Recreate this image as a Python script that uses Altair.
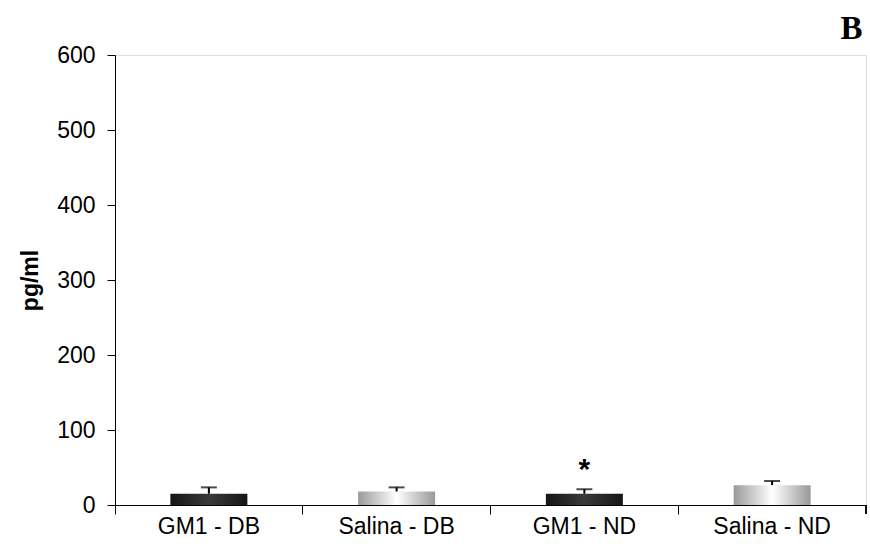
import altair as alt
import pandas as pd

categories = ["GM1 - DB", "Salina - DB", "GM1 - ND", "Salina - ND"]
groups = ["GM1", "Salina", "GM1", "Salina"]
values = [15, 18, 15, 26.5]
err_top = [23.5, 23.5, 21, 32]
star_cat = ["GM1 - ND"]
star_val = [56]

df = pd.DataFrame({"cat": categories, "group": groups, "value": values, "top": err_top})
star_df = pd.DataFrame({"cat": star_cat, "value": star_val, "label": ["*"]})

FONT = "Liberation Sans Narrow, Arial Narrow, Liberation Sans, Arial"
FONT_B = "Liberation Sans, Arial"

x_enc = alt.X(
    "cat:N",
    sort=categories,
    scale=alt.Scale(paddingInner=0, paddingOuter=0),
    axis=alt.Axis(
        title=None, labelAngle=0, bandPosition=0, tickSize=9, labelPadding=1,
        labelFont=FONT, labelFontSize=23, labelColor="black",
        domainColor="black", tickColor="black", labelFlush=False,
    ),
)
y_enc = alt.Y(
    "value:Q",
    scale=alt.Scale(domain=[0, 600], nice=False),
    axis=alt.Axis(
        title="pg/ml", values=[0, 100, 200, 300, 400, 500, 600], grid=False,
        tickSize=8, labelPadding=12, labelFont=FONT, labelFontSize=23, labelColor="black",
        domainColor="black", tickColor="black",
        titleFont=FONT_B, titleFontSize=23, titleFontWeight="bold", titleColor="black",
        titlePadding=14,
    ),
)

dark = alt.Gradient(
    gradient="linear", x1=0, x2=1, y1=0, y2=0,
    stops=[alt.GradientStop(color="#151515", offset=0),
           alt.GradientStop(color="#3a3a3a", offset=0.5),
           alt.GradientStop(color="#151515", offset=1)],
)
light = alt.Gradient(
    gradient="linear", x1=0, x2=1, y1=0, y2=0,
    stops=[alt.GradientStop(color="#999999", offset=0),
           alt.GradientStop(color="#ffffff", offset=0.5),
           alt.GradientStop(color="#999999", offset=1)],
)

base = alt.Chart(df)

bars_dark = base.transform_filter(alt.datum.group == "GM1").mark_bar(size=77, color=dark).encode(x=x_enc, y=y_enc)
bars_light = base.transform_filter(alt.datum.group == "Salina").mark_bar(size=77, color=light).encode(x=x_enc, y=y_enc)

err_rule = base.mark_rule(color="black", strokeWidth=2).encode(x=x_enc, y="value:Q", y2="top:Q")
err_cap = base.mark_tick(color="black", size=16, thickness=2, orient="horizontal").encode(x=x_enc, y="top:Q")

star = alt.Chart(star_df).mark_text(
    font=FONT_B, fontSize=30, fontWeight="bold", color="black", baseline="middle", dy=7
).encode(x=x_enc, y="value:Q", text="label:N")

end_tick = alt.Chart(df).mark_rule(color="black").encode(
    x=alt.value(751), y=alt.value(450), y2=alt.value(459)
)

chart = alt.layer(bars_dark, bars_light, err_rule, err_cap, star, end_tick).properties(
    width=751, height=450,
    title=alt.TitleParams("B", anchor="end", font="Liberation Serif, Times New Roman", fontSize=33,
                          fontWeight="bold", color="black", offset=-2, dx=-4),
    autosize=alt.AutoSizeParams(type="none"),
    padding={"left": 115, "top": 55, "right": 4, "bottom": 49},
).configure_view(stroke=None).configure(background="white")

chart.save("out.html", embed_options={"renderer": "svg", "actions": False})
